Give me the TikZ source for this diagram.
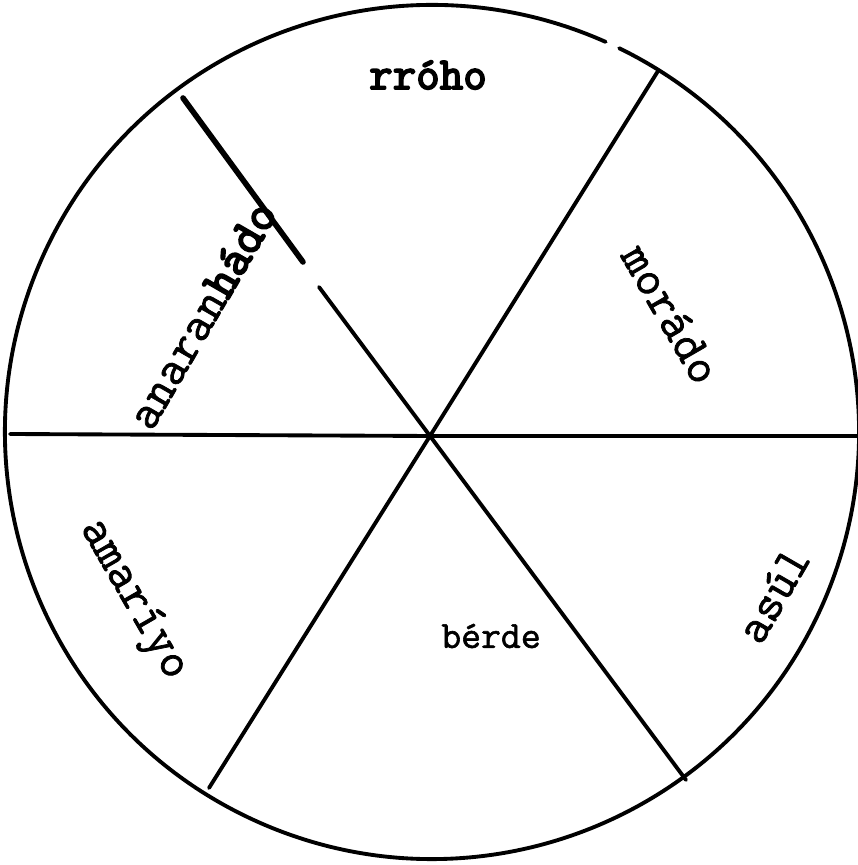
\documentclass[tikz,border=0pt]{standalone}
\usepackage{fontspec}
\newfontfamily\tipo[FakeBold=1.5]{Latin Modern Mono}
\newfontfamily\tipob[FakeBold=4]{Latin Modern Mono}
\usetikzlibrary{calc}

\begin{document}
\begin{tikzpicture}[line join=round, line cap=round, x=0.02cm, y=0.02cm, line width=2.2pt,
	nhan/.style={font=\tipo\fontsize{28}{32}\selectfont, inner sep=0pt}]
	% Vòng màu
	\useasboundingbox (0,0) rectangle (858,865);
	\def\bk{427}
	\def\ga{66}
	\def\gb{360+64}
	\coordinate (C) at (432,433);
	\coordinate (O) at (430,429);
	\coordinate (A) at (183,767);
	\coordinate (B1) at (303,603);
	\coordinate (B2) at (319,578);
	\coordinate (D) at (686,85);
	\coordinate (E) at (658,794);
	\coordinate (F) at (209,77);
	\coordinate (G) at (10,431);
	\coordinate (H) at (858,429);
	\draw ($(C)+(\ga:\bk)$) arc[start angle=\ga, end angle=\gb, radius=\bk];
	\draw (G)--(O)--(H);
	\draw (E)--(O)--(F);
	\draw[line width=3.2pt] (A)--(B1);
	\draw (B2)--(O)--(D);
	% Nhãn
	\path (428,790) node[nhan,font=\tipob\fontsize{26}{30}\selectfont] (rojo) {rróho};
	\path (202,550) node[nhan,rotate=60] (naranja) {anaran{\tipob hádo}};
	\path (671,551) node[nhan,rotate=-60] (morado) {morádo};
	\path (133,265) node[nhan,rotate=-60] (amarillo) {amaríyo};
	\path (773,270) node[nhan,rotate=60] (azul) {asúl};
	\path (491,229) node[nhan,font=\tipo\fontsize{22}{26}\selectfont] (verde) {bérde};
\end{tikzpicture}
\end{document}
